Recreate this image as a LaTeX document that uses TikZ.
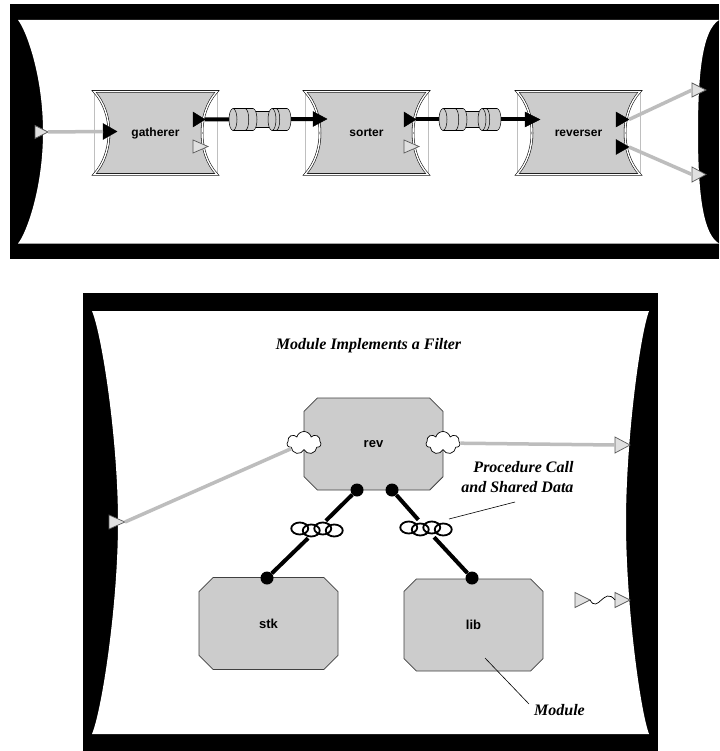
\documentclass[tikz,border=0pt]{standalone}
\usepackage{fontspec}
\setmainfont{Liberation Sans}
\newfontfamily\annotfont{Liberation Serif}
\usetikzlibrary{shapes.geometric,shapes.misc,shapes.symbols}
\definecolor{boxgray}{gray}{0.8}
\definecolor{linegray}{gray}{0.74}
\definecolor{portfill}{gray}{0.88}
\definecolor{portedge}{gray}{0.35}
\begin{document}
\begin{tikzpicture}[x=1pt,y=-1pt,
  lightfill/.style={draw=portedge, fill=portfill, line width=0.7pt, line join=miter},
  blackfill/.style={draw=black, fill=black, line width=0.4pt},
  pics/port/.style n args={3}{code={
    \draw[#3] (0,-#2) -- (#1,0) -- (0,#2) -- cycle;
    \coordinate (-tip) at (#1,0);
    \coordinate (-base) at (0,0);
  }},
  toplabel/.style={font=\bfseries\fontsize{12}{14}\selectfont},
  modlabel/.style={font=\bfseries\fontsize{13}{15}\selectfont},
  annot/.style={font=\annotfont\bfseries\itshape\fontsize{16}{20}\selectfont},
  grayconn/.style={draw=linegray, line width=3.5pt},
  blackconn/.style={draw=black, line width=4pt},
  octa/.style={chamfered rectangle, chamfered rectangle xsep=18pt, chamfered rectangle ysep=18pt,
    minimum width=139pt, minimum height=92pt, inner sep=0pt, fill=boxgray, draw=black!75, line width=0.8pt},
  cloudport/.style={cloud, cloud puffs=7, aspect=1.5, minimum width=34pt, minimum height=23pt,
    inner sep=0pt, draw=black, fill=white, line width=0.7pt},
  dotnode/.style={circle, fill=black, inner sep=0pt, minimum size=13pt},
  ringbox/.style={rectangle, inner sep=0pt, minimum width=54pt, minimum height=17pt},
  ringline/.style={draw=black, line width=1.8pt},
  leader/.style={draw=black, line width=0.6pt},
  filterbox/.pic={
    \draw[black!25, line width=0.4pt] (-61.5,-41.5) -- (-61.5,41.5) (61.5,-41.5) -- (61.5,41.5);
    \draw[fill=boxgray, draw=black, double=white, double distance=1.4pt, line width=0.55pt]
      (-61.5,-41.5) -- (61.5,-41.5) .. controls (41.5,-20) and (41.5,20) .. (61.5,41.5)
      -- (-61.5,41.5) .. controls (-41.5,20) and (-41.5,-20) .. cycle;
  },
  pipe/.pic={
    \fill[boxgray] (-7,-8) rectangle (12,8);
    \draw[line width=0.5pt] (-7,-8) -- (12,-8) (-7,8) -- (12,8);
    \draw[fill=boxgray, line width=0.5pt] (-7,0) ellipse [x radius=4pt, y radius=11pt];
    \fill[boxgray] (-27,-11) rectangle (-7,11);
    \draw[line width=0.5pt] (-27,-11) -- (-7,-11) (-27,11) -- (-7,11);
    \draw[fill=boxgray, line width=0.5pt] (-27,0) ellipse [x radius=4pt, y radius=11pt];
    \draw[line width=0.5pt] (-15,-11) .. controls (-10,-11) and (-10,11) .. (-15,11);
    \draw[fill=boxgray, line width=0.5pt] (27,0) ellipse [x radius=4pt, y radius=11pt];
    \fill[boxgray] (12,-11) rectangle (27,11);
    \draw[line width=0.5pt] (12,-11) -- (27,-11) (12,11) -- (27,11);
    \draw[fill=boxgray, line width=0.5pt] (12,0) ellipse [x radius=4pt, y radius=11pt];
    \draw[line width=0.5pt] (16,-11) .. controls (21,-11) and (21,11) .. (16,11);
  }
]
\useasboundingbox (0,0) rectangle (719,751);

% ---------------- top panel ----------------
\fill[black] (10,4) rectangle (719,259);
\fill[white] (18,20) -- (719,20) .. controls (703,30) and (698,70) .. (698,132)
  .. controls (698,194) and (703,234) .. (719,243.5) -- (18,243.5)
  .. controls (26,234) and (43,189) .. (43,132) .. controls (43,75) and (26,30) .. (18,20) -- cycle;

\pic at (155.5,133) {filterbox};
\pic at (366.5,133) {filterbox};
\pic at (578.5,133) {filterbox};
\node[toplabel] (g) at (155.5,133) {gatherer};
\node[toplabel] (s) at (366.5,133) {sorter};
\node[toplabel] (r) at (578.5,133) {reverser};

\pic (Lin) at (35,132) {port={13}{6.5}{lightfill}};
\pic (gin) at (103,131.5) {port={14}{8}{blackfill}};
\pic (gout) at (193,119.5) {port={12}{7.5}{blackfill}};
\pic (gout2) at (193,146.5) {port={15}{6.5}{lightfill}};
\pic (sin) at (313,119) {port={14}{7.5}{blackfill}};
\pic (sout) at (404,119.5) {port={12}{7.5}{blackfill}};
\pic (sout2) at (404,146.5) {port={15}{6.5}{lightfill}};
\pic (rin) at (525,119.5) {port={15}{7.5}{blackfill}};
\pic (rout1) at (616,119.5) {port={13}{7.5}{blackfill}};
\pic (rout2) at (616,147) {port={13}{7.5}{blackfill}};
\pic (R1) at (692,90) {port={14}{7}{lightfill}};
\pic (R2) at (692,174.5) {port={14}{7.5}{lightfill}};

\draw[grayconn] (Lin-tip) -- (gin-base);
\draw[blackconn] (gout-tip) -- (sin-base);
\draw[blackconn] (sout-tip) -- (rin-base);
\draw[grayconn] (rout1-tip) -- (R1-base);
\draw[grayconn] (rout2-tip) -- (R2-base);
\pic at (260,119.5) {pipe};
\pic at (470,119.5) {pipe};

% ---------------- bottom panel ----------------
\fill[black] (83,293) rectangle (658,751);
\fill[white] (92,311) -- (649,311) .. controls (640,335) and (626,440) .. (626,522)
  .. controls (626,604) and (640,710) .. (649,734) -- (92,734)
  .. controls (102,710) and (118,604) .. (118,522) .. controls (118,440) and (102,335) .. (92,311) -- cycle;

\node[annot] (title) at (368.5,346) {Module Implements a Filter};

\node[octa, modlabel] (rev) at (373.5,444) {rev};
\node[octa, modlabel] (stk) at (268.5,623.5) {stk};
\node[octa, modlabel] (lib) at (473.5,625) {lib};

\pic (pL) at (109,522) {port={16}{7}{lightfill}};
\pic (pR) at (615,445) {port={15}{8}{lightfill}};
\node[cloudport] (cl) at (304,443) {};
\node[cloudport] (cr) at (443,443) {};
\draw[grayconn] (pL-tip) -- (cl);
\draw[grayconn] (cr) -- (pR-base);

\node[dotnode] (d1) at (357,490) {};
\node[dotnode] (d2) at (392,490) {};
\node[dotnode] (d3) at (267,578) {};
\node[dotnode] (d4) at (472,578) {};
\node[ringbox] (rA) at (317,529.5) {};
\node[ringbox] (rB) at (426,528.5) {};
\draw[blackconn] (d1) -- (rA) (rA) -- (d3);
\draw[blackconn] (d2) -- (rB) (rB) -- (d4);
\foreach \dx/\dy in {-17.25/-1,-5.75/1,5.75/-1,17.25/1}{
  \draw[ringline] ([shift={(\dx,\dy)}]rA.center) ellipse [x radius=8.5pt, y radius=6pt];
  \draw[ringline] ([shift={(\dx,\dy)}]rB.center) ellipse [x radius=8.5pt, y radius=6pt];
}

\node[annot, align=right, anchor=east] (pc) at (577,477) {Procedure Call\\and Shared Data};
\coordinate (pcA) at (515,502);
\coordinate (pcB) at (449,519);
\draw[leader] (pcA) -- (pcB);

\node[annot] (mod) at (559.5,710) {Module};
\coordinate (mA) at (529,704);
\coordinate (mB) at (485,658);
\draw[leader] (mA) -- (mB);

\pic (w1) at (575,600) {port={15}{7.5}{lightfill}};
\pic (w2) at (615,600) {port={15}{7.5}{lightfill}};
\draw[leader, line width=0.7pt] (w1-tip) .. controls (598,614) and (604,586) .. (w2-base);
\end{tikzpicture}
\end{document}
